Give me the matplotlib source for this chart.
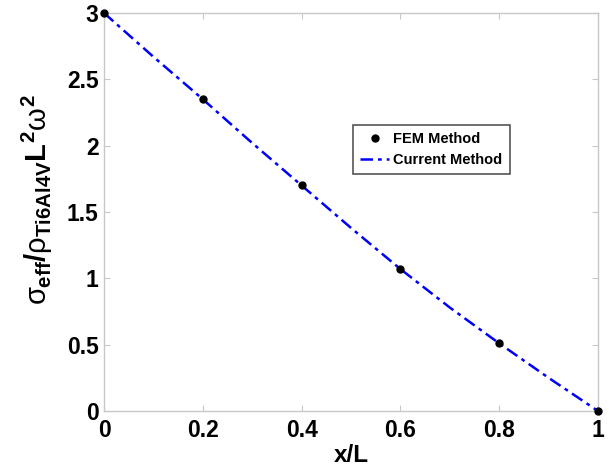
import matplotlib
matplotlib.use("Agg")
import matplotlib.pyplot as plt

plt.rcParams['font.family'] = ['Liberation Sans', 'DejaVu Sans']
plt.rcParams['mathtext.fontset'] = 'custom'
plt.rcParams['mathtext.rm'] = 'Liberation Sans:bold'
plt.rcParams['mathtext.bf'] = 'Liberation Sans:bold'
plt.rcParams['mathtext.it'] = 'Liberation Sans'
plt.rcParams['mathtext.sf'] = 'Liberation Sans:bold'

# FEM method points
fem_x = [0.0, 0.2, 0.4, 0.6, 0.8, 1.0]
fem_y = [3.0, 2.35, 1.70, 1.07, 0.51, 0.0]

# Current method curve
cur_x = [0.0, 0.1, 0.2, 0.3, 0.4, 0.5, 0.6, 0.7, 0.8, 0.9, 1.0]
cur_y = [3.0, 2.67, 2.35, 2.02, 1.70, 1.38, 1.07, 0.78, 0.51, 0.25, 0.0]

xticks = [0, 0.2, 0.4, 0.6, 0.8, 1]
xtick_labels = ['0', '0.2', '0.4', '0.6', '0.8', '1']
yticks = [0, 0.5, 1, 1.5, 2, 2.5, 3]
ytick_labels = ['0', '0.5', '1', '1.5', '2', '2.5', '3']

fig = plt.figure(figsize=(6.09, 4.66), dpi=100)
ax = fig.add_axes([104/609, 1 - 411/466, (598-104)/609, (411-13)/466])

ax.plot(cur_x, cur_y, color='#0000ff', linestyle='-.', linewidth=1.8,
        dashes=(5, 2, 1.5, 2), label='Current Method', zorder=2)
ax.plot(fem_x, fem_y, linestyle='none', marker='o', markersize=5,
        color='black', label='FEM Method', zorder=3, clip_on=False)

ax.set_xlim(0, 1)
ax.set_ylim(0, 3)
ax.set_xticks(xticks)
ax.set_xticklabels(xtick_labels)
ax.set_yticks(yticks)
ax.set_yticklabels(ytick_labels)

for sp in ax.spines.values():
    sp.set_color('#c8c8c8')
    sp.set_linewidth(1.0)
ax.tick_params(direction='in', length=4, width=0.8, color='#c8c8c8',
               top=True, right=True, labelsize=16.5)
ax.tick_params(axis='x', pad=6)
ax.tick_params(axis='y', pad=4)
for lab in ax.get_xticklabels() + ax.get_yticklabels():
    lab.set_fontweight('bold')

ax.set_xlabel('x/L', fontsize=17.5, fontweight='bold', labelpad=1)
ax.set_ylabel(r'$\sigma_{\mathrm{eff}}/\rho_{\mathrm{Ti6Al4V}}\mathrm{L}^{\mathrm{2}}\omega^{\mathrm{2}}$',
              fontsize=21)
ax.yaxis.set_label_coords(-0.10, 0.53)

handles, labels = ax.get_legend_handles_labels()
leg = ax.legend(handles[::-1], labels[::-1], loc='upper left',
                bbox_to_anchor=((353-104)/494, 1 - (125-13)/398),
                fancybox=False, edgecolor='#555555', framealpha=1,
                prop={'weight': 'bold', 'size': 10.5}, handlelength=2.0,
                borderpad=0.5, labelspacing=0.45, handletextpad=0.25,
                borderaxespad=0)
leg.get_frame().set_linewidth(1.2)

fig.savefig('out.png', dpi=100)
